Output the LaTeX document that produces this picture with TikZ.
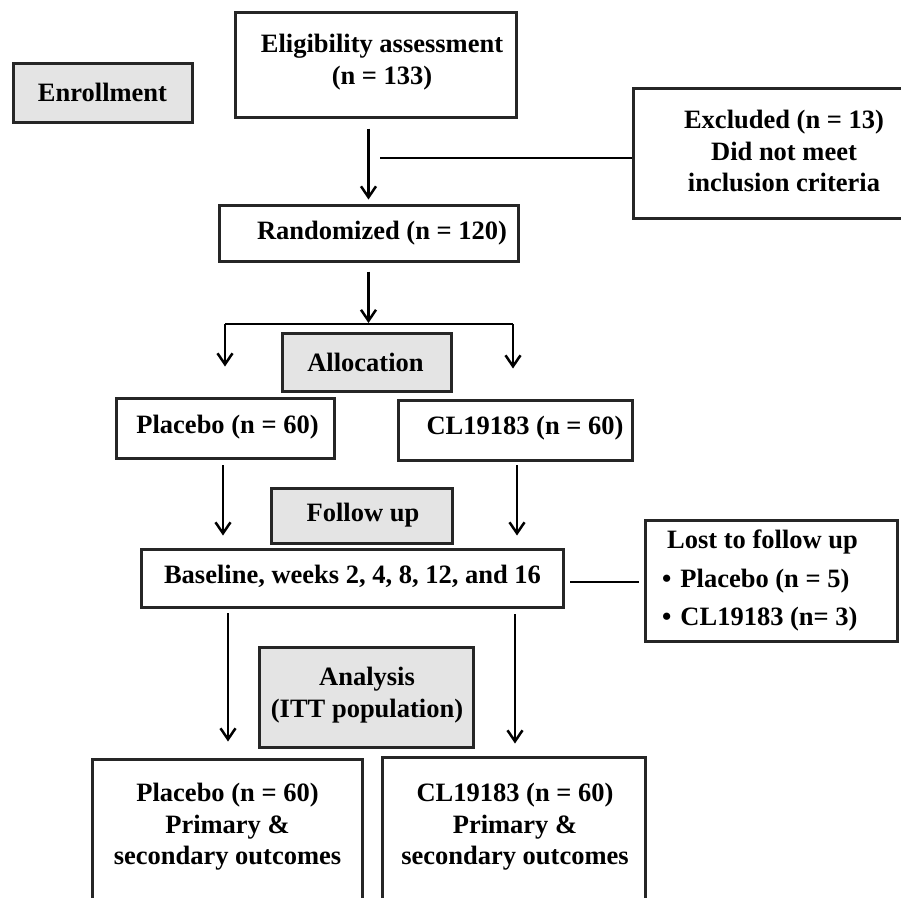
\documentclass[tikz,border=0pt]{standalone}
\usepackage{fontspec}
\setmainfont{Liberation Serif}
\usetikzlibrary{arrows.meta}
\definecolor{boxgray}{HTML}{E4E4E4}
\begin{document}
\begin{tikzpicture}[x=1pt,y=-1pt,
  box/.style={draw=black!85,line width=3pt,rectangle,inner sep=0pt},
  graybox/.style={box,fill=boxgray},
  txt/.style={font=\bfseries\fontsize{26.5}{31.5}\selectfont,align=center,inner sep=0pt},
  ltxt/.style={font=\bfseries\fontsize{26.5}{31.5}\selectfont,align=left,inner sep=0pt,anchor=west},
  arr/.style={line width=2.5pt,-{Straight Barb[length=11pt,width=15pt,line width=2.5pt]}},
  ln/.style={line width=2.7pt}]
\useasboundingbox (0,0) rectangle (901,897);
\clip (0,0) rectangle (901,897);
% boxes
\node[graybox,minimum width=179pt,minimum height=59pt] (enroll) at (102.5,92.5) {};
\node[txt] (enrollt) at (102.5,92.5) {Enrollment};
\node[box,minimum width=281pt,minimum height=105pt] (elig) at (375.5,64.5) {};
\node[txt] (eligt) at (382,62) {Eligibility assessment\\(n = 133)};
\node[box,minimum width=284pt,minimum height=130pt] (excl) at (775,153) {};
\node[txt] (exclt) at (784,151) {Excluded (n = 13)\\Did not meet\\inclusion criteria};
\node[box,minimum width=299pt,minimum height=56pt] (rand) at (368.5,233) {};
\node[txt] (randt) at (382,233) {Randomized (n = 120)};
\node[graybox,minimum width=169pt,minimum height=58pt] (alloc) at (366.5,362) {};
\node[txt] (alloct) at (365.5,362) {Allocation};
\node[box,minimum width=218pt,minimum height=60pt] (plac) at (225,428) {};
\node[txt] (plact) at (227.5,427) {Placebo (n = 60)};
\node[box,minimum width=234pt,minimum height=60pt] (cl) at (515,430) {};
\node[txt] (clt) at (525,428) {CL19183 (n = 60)};
\node[graybox,minimum width=181pt,minimum height=55pt] (follow) at (361.5,515.5) {};
\node[txt] (followt) at (363,515.5) {Follow up};
\node[box,minimum width=422pt,minimum height=58pt] (base) at (352,578) {};
\node[txt] (baset) at (352.5,576) {Baseline, weeks 2, 4, 8, 12, and 16};
\node[box,minimum width=252pt,minimum height=121pt] (lost) at (771,580.5) {};
\node[ltxt] (lost1) at (667,542) {Lost to follow up};
\node[ltxt] (lost2) at (662,581) {•\hspace{9pt}Placebo (n = 5)};
\node[ltxt] (lost3) at (662,619) {•\hspace{9pt}CL19183 (n= 3)};
\node[graybox,minimum width=214pt,minimum height=100pt] (anal) at (366,697) {};
\node[txt] (analt) at (367,695) {Analysis\\(ITT population)};
\node[box,minimum width=270pt,minimum height=160pt] (placf) at (227,839) {};
\node[txt] (placft) at (227.5,827) {Placebo (n = 60)\\Primary \&\\secondary outcomes};
\node[box,minimum width=263pt,minimum height=162pt] (clf) at (513.5,838) {};
\node[txt] (clft) at (515,827) {CL19183 (n = 60)\\Primary \&\\secondary outcomes};
% connectors
\draw[arr] ([yshift=-10pt]elig.south -| rand.north) -- ([yshift=4pt]rand.north);
\coordinate (exj) at (380,158);
\draw[ln] (exj) -- (exj -| excl.west);
\coordinate (bl) at (225,324);
\coordinate (br) at (513,324);
\draw[ln] (bl) -- (br);
\draw[arr] ([yshift=-9pt]rand.south) -- ([yshift=1pt]rand.south |- bl);
\draw[arr] (bl) -- ([yshift=30pt]bl |- plac.north);
\draw[arr] (br) -- ([yshift=30pt]br |- cl.north);
\coordinate (pa) at (223,465);
\coordinate (ca) at (517,465);
\draw[arr] (pa) -- ([yshift=12pt]pa |- base.north);
\draw[arr] (ca) -- ([yshift=12pt]ca |- base.north);
\coordinate (lj) at (570,582);
\draw[ln] (lj) -- ([xshift=-5pt]lj -| lost.west);
\coordinate (pb) at (228,613);
\coordinate (cb) at (515,614);
\draw[arr] (pb) -- ([yshift=16pt]pb |- placf.north);
\draw[arr] (cb) -- ([yshift=12pt]cb |- clf.north);
\end{tikzpicture}
\end{document}
